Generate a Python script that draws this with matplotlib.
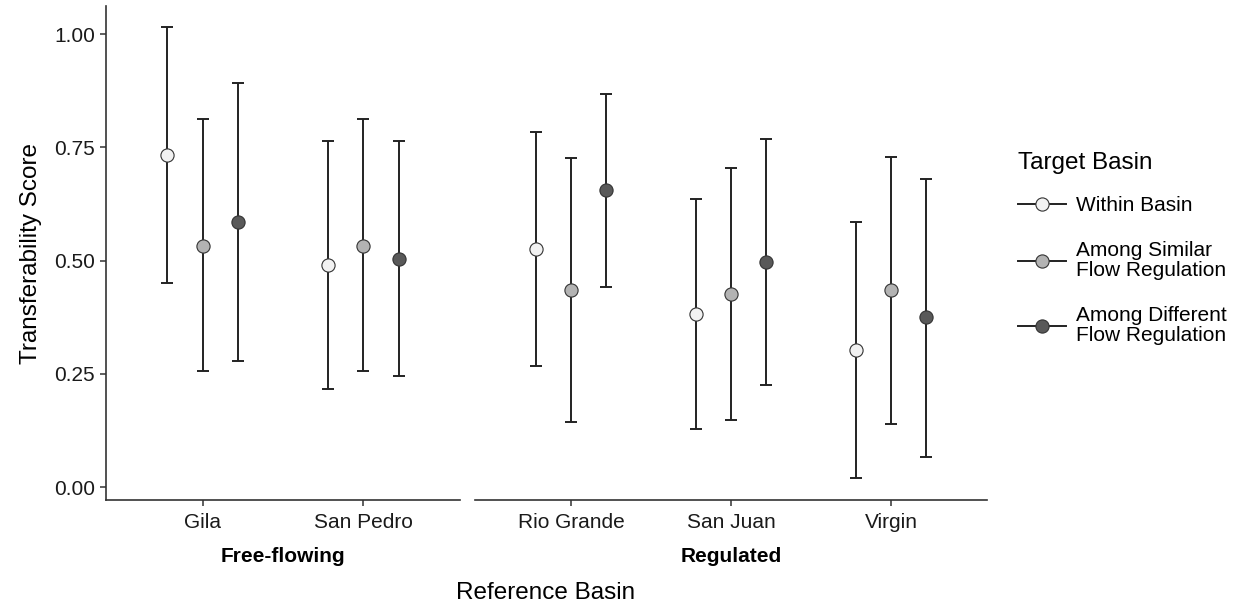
import matplotlib
matplotlib.use("Agg")
import matplotlib.pyplot as plt
from matplotlib.lines import Line2D
import numpy as np

plt.rcParams['font.family'] = ['Liberation Sans', 'DejaVu Sans']

# Reference basins grouped by flow regime
free_basins = ["Gila", "San Pedro"]
reg_basins = ["Rio Grande", "San Juan", "Virgin"]

target_labels = ["Within Basin", "Among Similar\nFlow Regulation", "Among Different\nFlow Regulation"]
target_fills = ["#F2F2F2", "#B3B3B3", "#595959"]

# Mean transferability scores (rows: basin, cols: target type)
free_mean = [[0.732, 0.533, 0.585],
             [0.491, 0.533, 0.503]]
free_low = [[0.450, 0.256, 0.278],
            [0.217, 0.256, 0.244]]
free_high = [[1.015, 0.812, 0.893],
             [0.765, 0.812, 0.763]]

reg_mean = [[0.525, 0.436, 0.655],
            [0.381, 0.426, 0.497],
            [0.303, 0.435, 0.375]]
reg_low = [[0.267, 0.144, 0.441],
           [0.127, 0.149, 0.226],
           [0.020, 0.139, 0.067]]
reg_high = [[0.783, 0.727, 0.868],
            [0.636, 0.704, 0.768],
            [0.584, 0.729, 0.681]]

W, H = 1242, 607
fig = plt.figure(figsize=(W / 100, H / 100), dpi=100)

ax_top, ax_bot = 6, 500
ax1 = fig.add_axes([106 / W, 1 - ax_bot / H, 354 / W, (ax_bot - ax_top) / H])
ax2 = fig.add_axes([475 / W, 1 - ax_bot / H, 512 / W, (ax_bot - ax_top) / H])

offsets = [-0.218, 0.0, 0.218]
line_col = "#222222"
tick_fs = 15
title_fs = 17.5


def draw_panel(ax, basins, mean, low, high, title, show_y):
    mean = np.array(mean)
    low = np.array(low)
    high = np.array(high)
    xs = np.arange(1, len(basins) + 1)
    for j in range(3):
        x = xs + offsets[j]
        ax.errorbar(x, mean[:, j], yerr=[mean[:, j] - low[:, j], high[:, j] - mean[:, j]],
                    fmt="none", ecolor=line_col, elinewidth=1.4, capsize=4.5,
                    capthick=1.4, zorder=2)
        ax.plot(x, mean[:, j], "o", ms=9.5, mfc=target_fills[j], mec="#333333",
                mew=0.8, zorder=3)
    ax.set_xlim(0.4, len(basins) + 0.6)
    ax.set_ylim(-0.0287, 1.062)
    ax.set_xticks(xs)
    ax.set_xticklabels(basins, fontsize=tick_fs, color="#1a1a1a")
    for s in ["top", "right"]:
        ax.spines[s].set_visible(False)
    ax.spines["bottom"].set_linewidth(1.2)
    ax.spines["bottom"].set_color("#333333")
    ax.tick_params(axis="x", length=4, width=1.1, color="#333333", pad=5)
    if show_y:
        ax.spines["left"].set_linewidth(1.2)
        ax.spines["left"].set_color("#333333")
        ax.set_yticks([0, 0.25, 0.5, 0.75, 1.0])
        ax.set_yticklabels(["0.00", "0.25", "0.50", "0.75", "1.00"], fontsize=tick_fs,
                           color="#1a1a1a")
        ax.tick_params(axis="y", length=4, width=1.1, color="#333333", pad=4)
    else:
        ax.spines["left"].set_visible(False)
        ax.set_yticks([])
    ax.set_xlabel(title, fontsize=tick_fs, fontweight="bold", labelpad=11)


draw_panel(ax1, free_basins, free_mean, free_low, free_high, "Free-flowing", True)
draw_panel(ax2, reg_basins, reg_mean, reg_low, reg_high, "Regulated", False)

fig.text(546 / W, 1 - 593 / H, "Reference Basin", ha="center", va="center", fontsize=title_fs)
fig.text(31 / W, 1 - 253 / H, "Transferability Score", ha="center", va="center",
         rotation=90, fontsize=title_fs)

handles = [Line2D([0], [0], color=line_col, lw=1.4, marker="o", ms=9.5,
                  mfc=target_fills[j], mec="#333333", mew=0.8) for j in range(3)]
leg = fig.legend(handles, target_labels, loc="upper left",
                 bbox_to_anchor=(1018 / W, 1 - 152 / H), frameon=False,
                 title="Target Basin", title_fontsize=title_fs, fontsize=tick_fs,
                 handlelength=2.3, handletextpad=0.5, labelspacing=1.25,
                 borderaxespad=0, borderpad=0)
leg._legend_box.align = "left"
leg._legend_box.sep = 16
for t in leg.get_texts():
    t.set_linespacing(1.05)

fig.savefig("out.png", dpi=100)
